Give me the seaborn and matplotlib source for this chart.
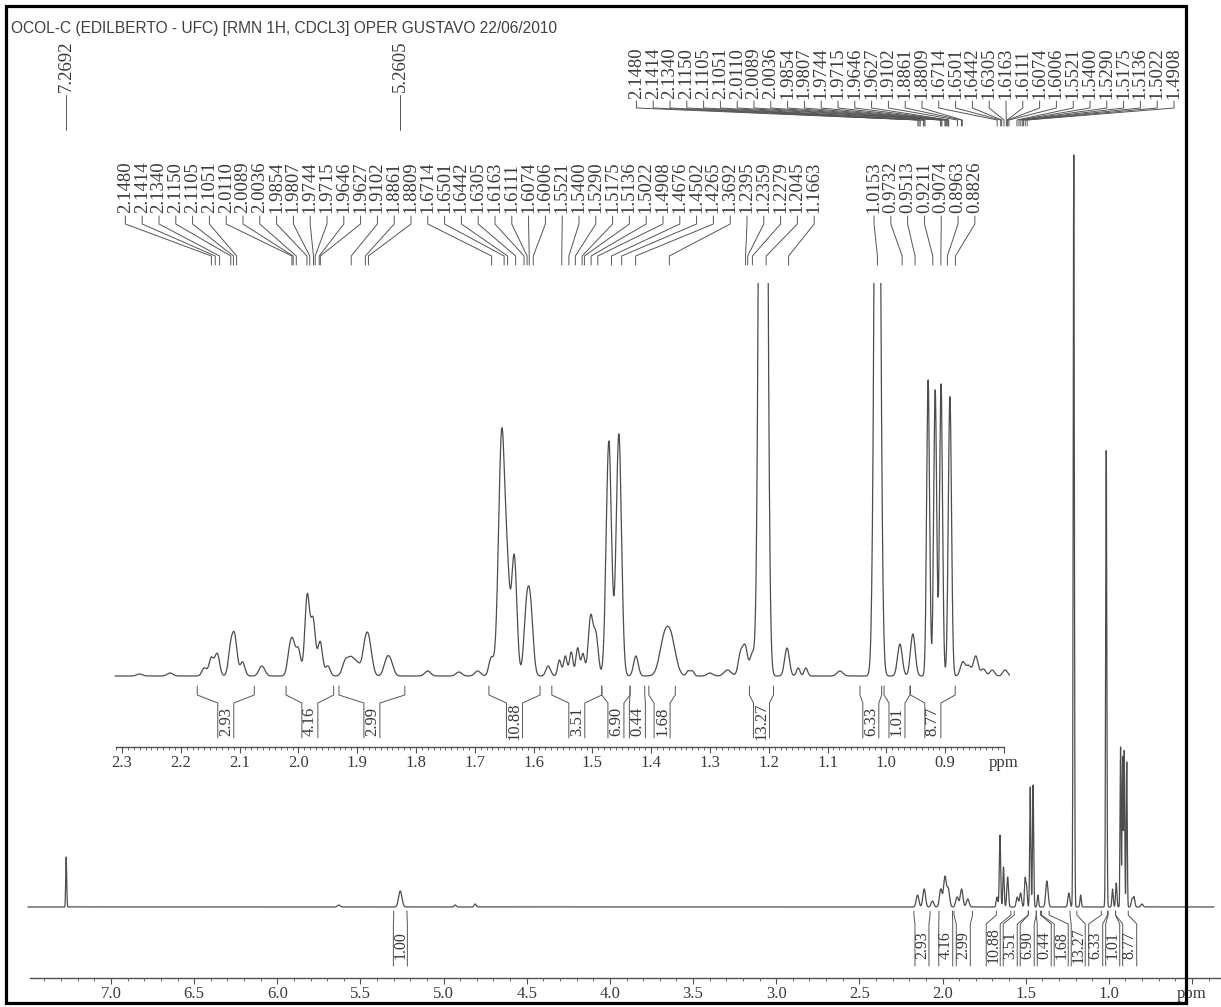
import numpy as np
import pandas as pd
import matplotlib
matplotlib.use("Agg")
import matplotlib.pyplot as plt
from matplotlib.patches import Rectangle
import seaborn as sns

sns.set_theme(style="white")
plt.rcParams["font.family"] = ["Liberation Serif", "DejaVu Serif"]

W, H, DPI = 1221, 1007, 100

TITLE = "OCOL-C (EDILBERTO - UFC) [RMN 1H, CDCL3] OPER GUSTAVO 22/06/2010"

# ---- full 1H spectrum: line centres (ppm), heights, gaussian widths (ppm) ----
full_ppm = [7.2692, 5.630, 5.2605, 4.930, 4.810,
            2.150, 2.110, 2.060, 2.010, 1.985, 1.965, 1.912, 1.885, 1.848,
            1.672, 1.654, 1.633, 1.608, 1.550, 1.530, 1.503, 1.494, 1.472, 1.455, 1.426, 1.372,
            1.240, 1.2105, 1.169, 1.0153, 0.977, 0.955, 0.929, 0.917, 0.907, 0.892, 0.860, 0.848, 0.800]
full_height = [50, 2, 16, 2, 3,
               12, 18, 6, 18, 30, 18, 10, 18, 8,
               10, 72, 40, 30, 10, 14, 28, 20, 120, 122, 12, 26,
               14, 752, 12, 457, 18, 24, 160, 150, 156, 145, 8, 10, 3]
full_sigma = [0.003, 0.008, 0.010, 0.006, 0.006,
              0.008, 0.008, 0.008, 0.008, 0.008, 0.008, 0.008, 0.008, 0.008,
              0.005, 0.004, 0.004, 0.005, 0.006, 0.006, 0.004, 0.004, 0.0035, 0.0035, 0.004, 0.007,
              0.006, 0.0035, 0.004, 0.0035, 0.004, 0.004, 0.003, 0.003, 0.003, 0.003, 0.005, 0.005, 0.006]

# ---- expansion 2.3 - 0.8 ppm ----
exp_ppm = [2.270, 2.218, 2.160, 2.148, 2.138, 2.115, 2.108, 2.095, 2.062,
           2.015, 2.009, 2.000, 1.985, 1.975, 1.963, 1.950,
           1.920, 1.910, 1.900, 1.886, 1.879, 1.850, 1.843,
           1.780, 1.727, 1.695, 1.672,
           1.654, 1.644, 1.633, 1.612, 1.605,
           1.575, 1.556, 1.546, 1.536, 1.525, 1.516, 1.503, 1.494,
           1.472, 1.455, 1.426, 1.378, 1.366, 1.337, 1.330, 1.300, 1.270,
           1.248, 1.240, 1.228, 1.212, 1.207, 1.169, 1.150, 1.137, 1.079,
           1.0153, 0.977, 0.955, 0.929, 0.917, 0.907, 0.892,
           0.870, 0.860, 0.848, 0.835, 0.820, 0.798]
exp_height = [2, 3, 8, 18, 22, 28, 36, 14, 10,
              22, 28, 26, 80, 55, 34, 10,
              15, 16, 12, 30, 26, 14, 12,
              5, 4, 5, 18,
              245, 70, 120, 62, 60,
              10, 16, 20, 24, 28, 22, 58, 40,
              235, 242, 20, 33, 33, 5, 5, 3, 6,
              22, 28, 22, 900, 850, 28, 8, 8, 5,
              900, 32, 42, 296, 286, 292, 280,
              14, 10, 20, 7, 6, 6]
exp_sigma = [0.005, 0.005, 0.004, 0.004, 0.004, 0.004, 0.004, 0.004, 0.005,
             0.004, 0.004, 0.004, 0.004, 0.004, 0.004, 0.004,
             0.005, 0.005, 0.005, 0.005, 0.005, 0.005, 0.005,
             0.005, 0.005, 0.005, 0.004,
             0.0055, 0.004, 0.0045, 0.0045, 0.0045,
             0.004, 0.003, 0.003, 0.003, 0.003, 0.003, 0.004, 0.004,
             0.0045, 0.0045, 0.004, 0.008, 0.008, 0.003, 0.003, 0.005, 0.006,
             0.004, 0.004, 0.004, 0.0045, 0.0045, 0.004, 0.003, 0.003, 0.005,
             0.0045, 0.004, 0.004, 0.0025, 0.0025, 0.0025, 0.0027,
             0.004, 0.004, 0.004, 0.004, 0.004, 0.004]

# ---- picked peaks ----
picked_single = [7.2692, 5.2605]
picked_top = [2.1480, 2.1414, 2.1340, 2.1150, 2.1105, 2.1051, 2.0110, 2.0089, 2.0036,
              1.9854, 1.9807, 1.9744, 1.9715, 1.9646, 1.9627, 1.9102, 1.8861, 1.8809,
              1.6714, 1.6501, 1.6442, 1.6305, 1.6163, 1.6111, 1.6074, 1.6006,
              1.5521, 1.5400, 1.5290, 1.5175, 1.5136, 1.5022, 1.4908]
picked_exp = picked_top + [1.4676, 1.4502, 1.4265, 1.3692, 1.2395, 1.2359, 1.2279,
                           1.2045, 1.1663, 1.0153, 0.9732, 0.9513, 0.9211, 0.9074,
                           0.8963, 0.8826]

# ---- integrals ----
int_values = [2.93, 4.16, 2.99, 10.88, 3.51, 6.90, 0.44, 1.68, 13.27, 6.33, 1.01, 8.77]
int_from = [2.172, 2.021, 1.931, 1.676, 1.569, 1.484, 1.436, 1.404, 1.233, 1.045, 1.004, 0.959]
int_to = [2.075, 1.940, 1.819, 1.589, 1.484, 1.436, 1.411, 1.359, 1.192, 1.008, 0.960, 0.883]
olefin_value, olefin_from, olefin_to = 1.00, 5.300, 5.220

# x axes
main_major = [7.0, 6.5, 6.0, 5.5, 5.0, 4.5, 4.0, 3.5, 3.0, 2.5, 2.0, 1.5, 1.0, 0.5]
exp_major = [2.3, 2.2, 2.1, 2.0, 1.9, 1.8, 1.7, 1.6, 1.5, 1.4, 1.3, 1.2, 1.1, 1.0, 0.9, 0.8]

INK = "#3a3a3a"
TRACE = "#4d4d4d"


def spectrum(grid, centres, heights, sigmas):
    g = np.asarray(grid)[:, None]
    c = np.asarray(centres)[None, :]
    h = np.asarray(heights, float)[None, :]
    s = np.asarray(sigmas)[None, :]
    return (h * np.exp(-0.5 * ((g - c) / s) ** 2)).sum(axis=1)


def spread(targets, gap, hi=None):
    """Spread sorted label positions so neighbours are at least `gap` apart."""
    t = list(np.asarray(targets, float))
    clusters = [[v] for v in t]

    def start(c):
        s = np.mean(c) - gap * (len(c) - 1) / 2
        if hi is not None:
            s = min(s, hi - gap * (len(c) - 1))
        return s

    merged = True
    while merged:
        merged = False
        for k in range(len(clusters) - 1):
            a, b = clusters[k], clusters[k + 1]
            if start(a) + gap * len(a) > start(b):
                clusters[k] = a + b
                del clusters[k + 1]
                merged = True
                break
    out = []
    for c in clusters:
        s = start(c)
        out += [s + gap * i for i in range(len(c))]
    return np.array(out)


def box(x0, y0, x1, y1):
    return [x0 / W, 1 - y1 / H, (x1 - x0) / W, (y1 - y0) / H]


fig = plt.figure(figsize=(W / DPI, H / DPI), dpi=DPI)
fig.patch.set_facecolor("white")

# main trace: baseline 71 px above the ppm axis
ax_main = fig.add_axes(box(0, 140, W, 978))
ax_exp = fig.add_axes(box(110, 283, 1010, 747))
ax_ann = fig.add_axes([0, 0, 1, 1])

full_grid = np.arange(0.367, 7.50, 0.0005)
full_df = pd.DataFrame({"ppm": full_grid,
                        "intensity": spectrum(full_grid, full_ppm, full_height, full_sigma)})
exp_grid = np.arange(0.785, 2.312, 0.0004)
exp_df = pd.DataFrame({"ppm": exp_grid,
                       "intensity": spectrum(exp_grid, exp_ppm, exp_height, exp_sigma)})

sns.lineplot(data=full_df, x="ppm", y="intensity", ax=ax_main, color=TRACE,
             linewidth=0.9, estimator=None, sort=False)
sns.lineplot(data=exp_df, x="ppm", y="intensity", ax=ax_exp, color=TRACE,
             linewidth=0.9, estimator=None, sort=False)

ax_main.set_xlim(7.0 + 111 / 166.3, 7.0 - (W - 111) / 166.3)
ax_main.set_ylim(-71, 767)
ax_exp.set_xlim(2.3 + 12 / 588.0, 2.3 - 888 / 588.0)
ax_exp.set_ylim(-71, 393)


def style_axis(ax, major, minor, lo, hi):
    for side in ("top", "left", "right"):
        ax.spines[side].set_visible(False)
    ax.spines["bottom"].set_color("#505050")
    ax.spines["bottom"].set_linewidth(1.0)
    ax.spines["bottom"].set_bounds(lo, hi)
    ax.patch.set_alpha(0)
    ax.set_yticks([])
    ax.set_xlabel("")
    ax.set_ylabel("")
    ax.grid(False)
    ax.set_xticks(major)
    ax.set_xticklabels(["ppm" if v == min(major) else f"{v:.1f}" for v in major])
    ax.set_xticks(minor, minor=True)
    ax.tick_params(axis="x", which="major", direction="out", length=4.5, width=0.8,
                   color="#505050", labelsize=12, labelcolor=INK, pad=1.5)
    ax.tick_params(axis="x", which="minor", direction="out", length=2.0, width=0.6,
                   color="#505050")
    ax.tick_params(axis="x", which="both", bottom=True)


style_axis(ax_main, main_major, np.round(np.arange(0.4, 7.45, 0.1), 2), 0.325, 7.487)
style_axis(ax_exp, exp_major, np.round(np.arange(0.80, 2.315, 0.01), 3), 0.80, 2.31)

# annotation layer in pixel coordinates
ax_ann.set_xlim(0, W)
ax_ann.set_ylim(H, 0)
ax_ann.axis("off")
ax_ann.patch.set_alpha(0)


def px(ax, ppm):
    return ax.transData.transform((ppm, 0))[0]


LINE = dict(color="#555555", lw=0.7)
PEAK_FONT = 13.5

# title
ax_ann.text(11, 28, TITLE, family=["Liberation Sans", "DejaVu Sans"], fontsize=11.2,
            color="#404040", ha="left", va="center")

# isolated picked peaks
for p in picked_single:
    x = px(ax_main, p)
    ax_ann.plot([x, x], [95, 130], **LINE)
    ax_ann.text(x, 92, f"{p:.4f}", rotation=90, ha="center", va="bottom",
                fontsize=PEAK_FONT, color=INK)

# picked peaks listed over the full spectrum
peak_x = [px(ax_main, p) for p in picked_top]
slots = spread(peak_x, 16.8, hi=1174)
for p, xp, xs in zip(picked_top, peak_x, slots):
    ax_ann.plot([xs, xs, xp, xp], [101, 108, 120, 126], **LINE)
    ax_ann.text(xs, 99, f"{p:.4f}", rotation=90, ha="center", va="bottom",
                fontsize=PEAK_FONT, color=INK)

# picked peaks over the expansion
peak_x = [px(ax_exp, p) for p in picked_exp]
slots = spread(peak_x, 16.8)
for p, xp, xs in zip(picked_exp, peak_x, slots):
    ax_ann.plot([xs, xs, xp, xp], [216, 224, 256, 265], **LINE)
    ax_ann.text(xs, 213, f"{p:.4f}", rotation=90, ha="center", va="bottom",
                fontsize=PEAK_FONT, color=INK)

# integrals under the expansion
xa = [px(ax_exp, a) for a in int_from]
xb = [px(ax_exp, b) for b in int_to]
centres = spread([(a + b) / 2 for a, b in zip(xa, xb)], 17)
for v, a, b, c in zip(int_values, xa, xb, centres):
    ax_ann.plot([a, a, c - 8, c - 8], [686, 695, 703, 738], **LINE)
    ax_ann.plot([b, b, c + 8, c + 8], [686, 695, 703, 738], **LINE)
    ax_ann.text(c, 721, f"{v:.2f}", rotation=90, ha="center", va="center",
                fontsize=12, color=INK)

# integrals under the full spectrum
m_vals = [olefin_value] + int_values
m_from = [olefin_from] + int_from
m_to = [olefin_to] + int_to
xa = [px(ax_main, a) for a in m_from]
xb = [px(ax_main, b) for b in m_to]
centres = spread([(a + b) / 2 for a, b in zip(xa, xb)], 17)
for v, a, b, c in zip(m_vals, xa, xb, centres):
    ax_ann.plot([a, a, c - 7, c - 7], [911, 915, 924, 966], **LINE)
    ax_ann.plot([b, b, c + 7, c + 7], [911, 915, 924, 966], **LINE)
    ax_ann.text(c, 945, f"{v:.2f}", rotation=90, ha="center", va="center",
                fontsize=11.5, color=INK)

# page frame
ax_ann.add_patch(Rectangle((6, 6), 1180, 997, fill=False, edgecolor="black", lw=2.3))

fig.savefig("out.png", dpi=DPI, facecolor="white")
